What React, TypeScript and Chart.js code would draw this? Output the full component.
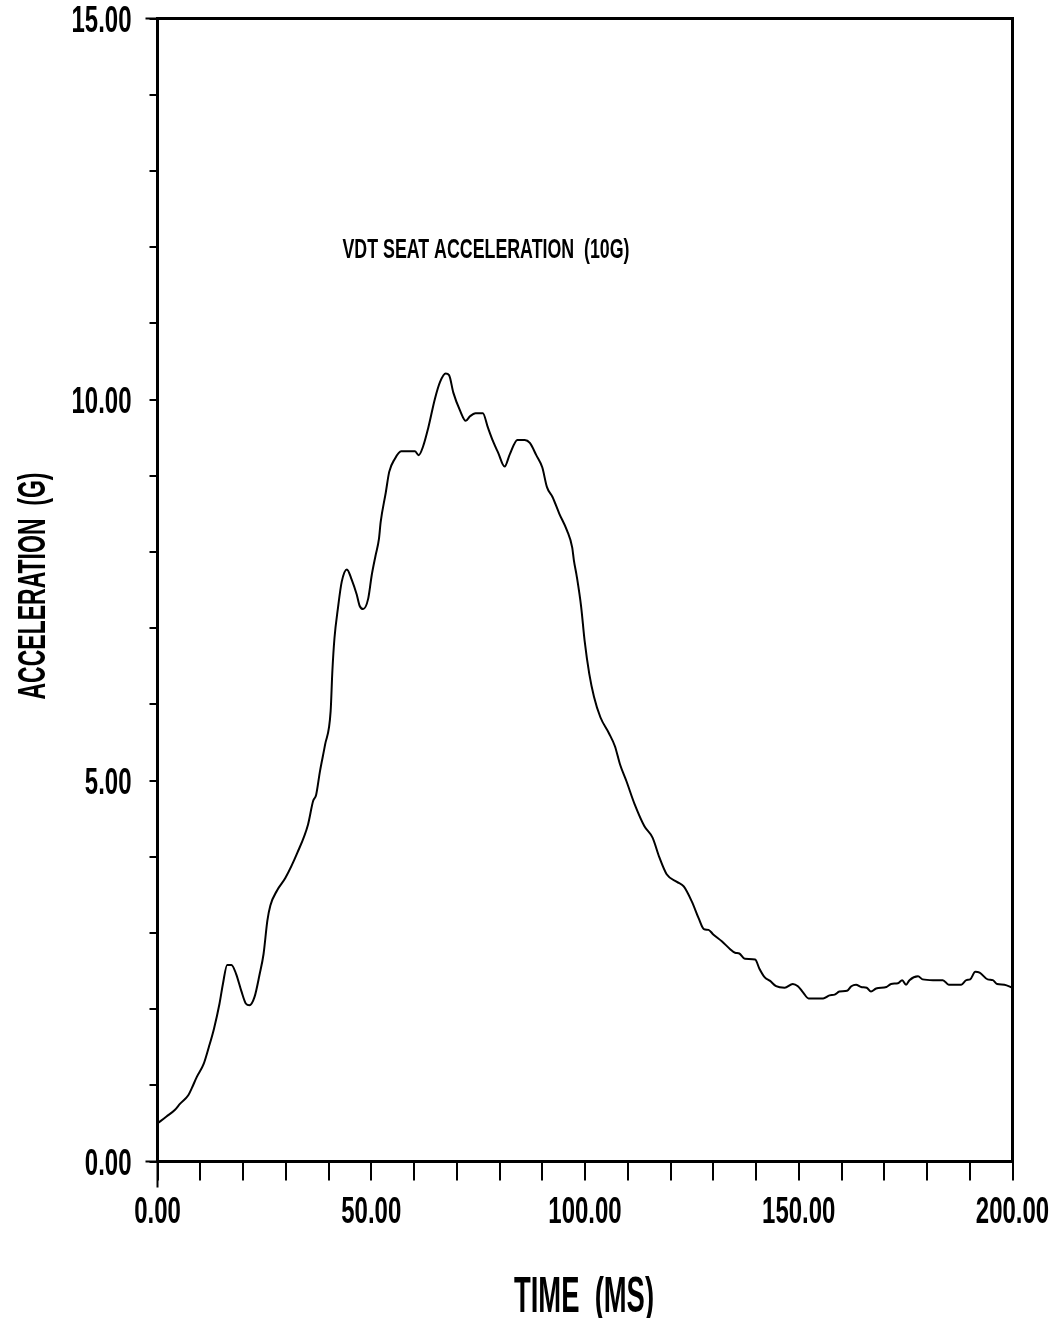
import React, { useEffect, useRef } from "react";
import { Chart, registerables } from "chart.js";

Chart.register(...registerables);

// ---- data (time in ms, acceleration in G) ----
const TIME_MS = [
  0, 2.1, 4.1, 5.3, 7.2, 8.0, 9.2, 10.8, 12.0, 13.2, 14.5, 15.3, 16.3, 17.3, 18.4, 19.6,
  20.7, 21.5, 22.7, 23.9, 24.8, 25.7, 26.4, 28.0, 29.9, 32.7, 35.2, 36.4, 37.1, 38.0, 39.2,
  40.5, 40.9, 41.4, 42.2, 43.1, 44.3, 45.4, 46.6, 47.3, 48.1, 49.3, 50.1, 51.0, 51.8, 52.2,
  53.4, 54.2, 55.5, 57.0, 60.2, 61.1, 62.1, 63.3, 64.9, 66.1, 67.4, 68.2, 69.2, 70.8, 72.1,
  73.1, 74.4, 76.1, 77.3, 78.5, 79.7, 81.2, 82.4, 84.2, 85.9, 87.1, 88.6, 90.0, 91.1, 92.4,
  94.0, 95.8, 97.0, 97.4, 98.1, 99.1, 99.9, 101.0, 102.1, 103.6, 105.6, 107.0, 108.2, 109.7,
  111.6, 113.9, 115.8, 117.4, 119.1, 121.5, 123.1, 125.0, 126.6, 127.8, 128.9, 130.0, 132.0,
  133.9, 135.1, 136.1, 137.4, 139.8, 140.8, 142.0, 143.3, 144.7, 146.7, 148.6, 149.8, 151.0,
  152.3, 155.7, 157.2, 158.4, 159.5, 161.3, 162.3, 163.4, 164.6, 165.9, 166.9, 168.1, 170.5,
  171.6, 173.2, 174.2, 175.1, 175.9, 177.9, 179.0, 181.4, 183.7, 185.1, 188.0, 189.2, 190.1,
  191.3, 192.3, 194.2, 195.4, 196.4, 198.1, 200.0,
];

const ACCEL_G = [
  0.5, 0.59, 0.68, 0.76, 0.87, 0.96, 1.11, 1.28, 1.5, 1.74, 2.07, 2.33, 2.58, 2.58, 2.46, 2.24,
  2.07, 2.05, 2.16, 2.46, 2.72, 3.16, 3.36, 3.56, 3.72, 4.05, 4.42, 4.73, 4.81, 5.12, 5.47,
  5.91, 6.43, 6.87, 7.26, 7.61, 7.77, 7.64, 7.44, 7.29, 7.25, 7.39, 7.69, 7.95, 8.17, 8.39,
  8.78, 9.05, 9.22, 9.32, 9.32, 9.27, 9.38, 9.62, 10.01, 10.23, 10.34, 10.32, 10.09, 9.85, 9.72,
  9.78, 9.82, 9.82, 9.63, 9.45, 9.3, 9.12, 9.28, 9.47, 9.47, 9.43, 9.27, 9.11, 8.85, 8.72,
  8.5, 8.28, 8.06, 7.89, 7.67, 7.28, 6.84, 6.4, 6.1, 5.83, 5.62, 5.45, 5.21, 4.99,
  4.69, 4.4, 4.25, 3.99, 3.77, 3.67, 3.61, 3.41, 3.19, 3.05, 3.04, 2.98, 2.89,
  2.79, 2.74, 2.73, 2.66, 2.65, 2.53, 2.42, 2.37, 2.3, 2.28, 2.33, 2.3, 2.22,
  2.14, 2.14, 2.18, 2.19, 2.23, 2.24, 2.3, 2.32, 2.29, 2.28, 2.23, 2.27, 2.29,
  2.33, 2.34, 2.38, 2.32, 2.38, 2.43, 2.39, 2.38, 2.38, 2.32, 2.32, 2.38, 2.39,
  2.49, 2.48, 2.39, 2.38, 2.33, 2.32, 2.28,
];

const X_LABEL_VALUES = [0, 50, 100, 150, 200];
const X_LABELS = ["0.00", "50.00", "100.00", "150.00", "200.00"];
const Y_LABEL_VALUES = [0, 5, 10, 15];
const Y_LABELS = ["0.00", "5.00", "10.00", "15.00"];

const CHART_TITLE = "VDT SEAT ACCELERATION  (10G)";
const X_TITLE = "TIME  (MS)";
const Y_TITLE = "ACCELERATION  (G)";

const FONT_FAMILY = '"Liberation Sans", Arial, sans-serif';

function drawText(
  ctx: CanvasRenderingContext2D,
  text: string,
  x: number,
  y: number,
  capH: number,
  opts: { sx?: number; width?: number; align?: "left" | "center" | "right"; rot?: number }
) {
  const size = capH / 0.716;
  ctx.save();
  ctx.font = `bold ${size}px ${FONT_FAMILY}`;
  ctx.fillStyle = "#000";
  ctx.textBaseline = "alphabetic";
  ctx.textAlign = "left";
  const w = ctx.measureText(text).width;
  const sx = opts.width ? opts.width / w : opts.sx ?? 1;
  ctx.translate(x, y);
  if (opts.rot) ctx.rotate(opts.rot);
  ctx.scale(sx, 1);
  const align = opts.align ?? "center";
  const dx = align === "left" ? 0 : align === "center" ? -w / 2 : -w;
  ctx.fillText(text, dx, capH / 2);
  ctx.restore();
}

const framePlugin = {
  id: "framePlugin",
  afterDatasetsDraw(chart: any) {
    const { ctx, chartArea } = chart;
    const { left, right, top, bottom } = chartArea;
    ctx.save();
    ctx.strokeStyle = "#000";
    ctx.lineWidth = 3;
    ctx.strokeRect(left, top, right - left, bottom - top);
    // extended origin ticks
    ctx.lineWidth = 2;
    ctx.beginPath();
    ctx.moveTo(left, bottom);
    ctx.lineTo(left, bottom + 26);
    ctx.moveTo(left, bottom);
    ctx.lineTo(left - 12, bottom);
    ctx.moveTo(left, top);
    ctx.lineTo(left - 12, top);
    ctx.stroke();
    ctx.restore();
  },
};

const textPlugin = {
  id: "textPlugin",
  afterDraw(chart: any) {
    const { ctx, chartArea, scales } = chart;
    const xs = scales.x;
    const ys = scales.y;
    Y_LABEL_VALUES.forEach((v, i) => {
      drawText(ctx, Y_LABELS[i], chartArea.left - 26, ys.getPixelForValue(v), 26, {
        sx: 0.66,
        align: "right",
      });
    });
    X_LABEL_VALUES.forEach((v, i) => {
      drawText(ctx, X_LABELS[i], xs.getPixelForValue(v), chartArea.bottom + 48, 26, {
        sx: 0.66,
        align: "center",
      });
    });
    drawText(ctx, CHART_TITLE, 486, 248, 20, { width: 287, align: "center" });
    drawText(ctx, X_TITLE, 584, 1294, 36, { width: 140, align: "center" });
    drawText(ctx, Y_TITLE, 31, 586, 28, { width: 227, align: "center", rot: -Math.PI / 2 });
  },
};

export default function App() {
  const ref = useRef<HTMLCanvasElement | null>(null);

  useEffect(() => {
    document.body.style.margin = "0";
    document.body.style.overflow = "hidden";
    document.body.style.background = "#fff";
    const canvas = ref.current;
    if (!canvas) return;
    const chart = new Chart(canvas, {
      type: "line",
      data: {
        datasets: [
          {
            data: TIME_MS.map((t, i) => ({ x: t, y: ACCEL_G[i] })),
            borderColor: "#000",
            borderWidth: 2,
            pointRadius: 0,
            fill: false,
            cubicInterpolationMode: "monotone",
          },
        ],
      },
      options: {
        responsive: false,
        maintainAspectRatio: false,
        animation: false,
        devicePixelRatio: 1,
        layout: { padding: { top: 18.5, right: 47.5, left: 0, bottom: 0 } },
        plugins: {
          legend: { display: false },
          tooltip: { enabled: false },
          title: { display: false },
        },
        scales: {
          x: {
            type: "linear",
            min: 0,
            max: 200,
            ticks: { stepSize: 10, display: false },
            grid: {
              drawOnChartArea: false,
              drawTicks: true,
              tickLength: 19,
              color: "#000",
              lineWidth: 2,
            },
            border: { display: false },
            afterFit: (s: any) => {
              s.height = 156.5;
            },
          },
          y: {
            type: "linear",
            min: 0,
            max: 15,
            ticks: { stepSize: 1, display: false },
            grid: {
              drawOnChartArea: false,
              drawTicks: true,
              tickLength: 8,
              color: "#000",
              lineWidth: 2,
            },
            border: { display: false },
            afterFit: (s: any) => {
              s.width = 157.5;
            },
          },
        },
      } as any,
      plugins: [framePlugin, textPlugin],
    });
    return () => chart.destroy();
  }, []);

  return (
    <canvas
      ref={ref}
      width={1060}
      height={1318}
      style={{ display: "block", width: 1060, height: 1318, background: "#fff" }}
    />
  );
}
